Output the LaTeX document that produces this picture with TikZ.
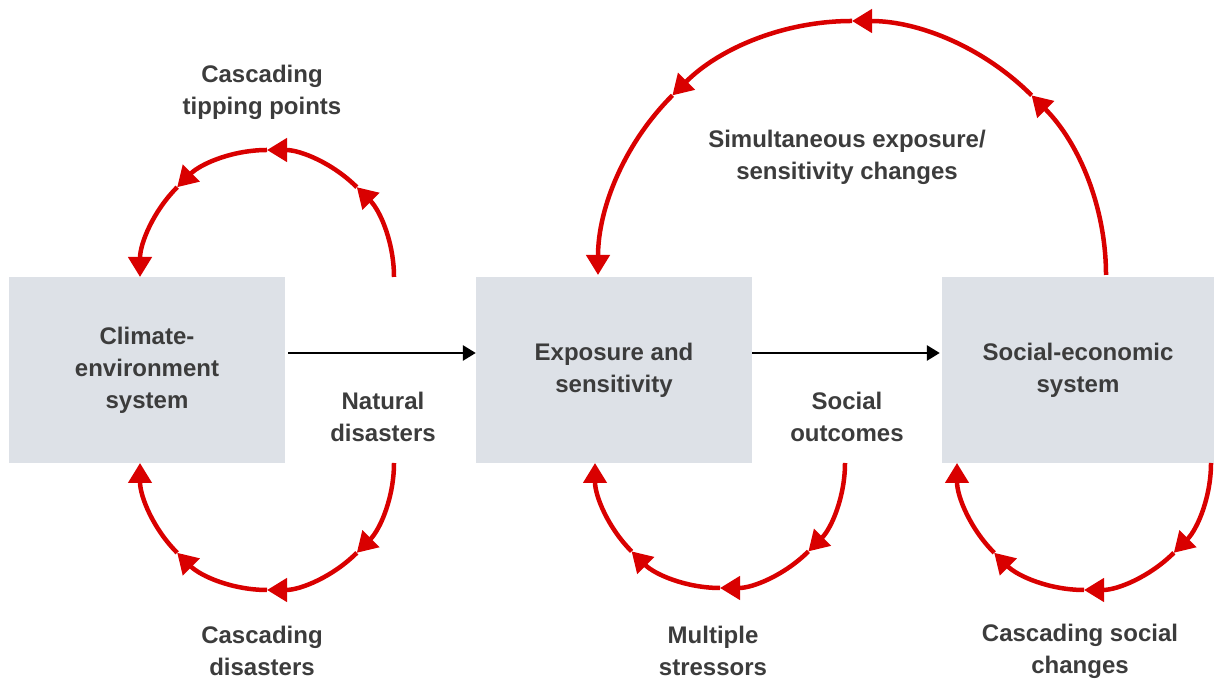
\documentclass[tikz,border=0pt]{standalone}
\usepackage{fontspec}
\setmainfont{Liberation Sans}
\usetikzlibrary{arrows.meta,calc}
\definecolor{boxgray}{RGB}{221,225,231}
\definecolor{cyclered}{RGB}{217,0,0}
\definecolor{txtgray}{RGB}{60,60,60}

\begin{document}
\begin{tikzpicture}[x=1pt,y=1pt,
    sysbox/.style={fill=boxgray, minimum width=276pt, minimum height=186pt, inner sep=0pt,
      align=center, text=txtgray, font=\bfseries\fontsize{24}{32}\selectfont},
    lbl/.style={align=center, text=txtgray, font=\bfseries\fontsize{24}{32}\selectfont},
    cyclearr/.style={draw=cyclered, line width=4.5pt, -{Triangle[length=20pt,width=23pt]}},
    flowarr/.style={draw=black, line width=2.8pt, -{Triangle[length=13pt,width=15pt]}}]

   \useasboundingbox (0,0) rectangle (1214,684);

   % the three systems
   \node[sysbox] (clim) at (147,314) {Climate-\\environment\\system};
   \node[sysbox] (expo) at (614,314) {Exposure and\\sensitivity};
   \node[sysbox, minimum width=272pt] (socio) at (1078,314) {Social-economic\\system};

   \draw[flowarr] ([xshift=3pt,yshift=17pt]clim.east) -- ([yshift=17pt]expo.west);
   \draw[flowarr] ([yshift=17pt]expo.east) -- ([xshift=-2pt,yshift=17pt]socio.west);

   % loop centres
   \coordinate (tl) at (267,407);
   \coordinate (bl) at (267,221);
   \coordinate (bm) at (720,221);
   \coordinate (br) at (1084,221);
   \coordinate (tp) at (852,409);

   \foreach \a in {0,45,90,135} {
     \draw[cyclearr] ($(tl)+(\a:127)$) arc[start angle=\a, delta angle=45, radius=127];
     \draw[cyclearr] ($(bl)+(-\a:127)$) arc[start angle=-\a, delta angle=-45, radius=127];
     \draw[cyclearr] ($(bm)+(-\a:125)$) arc[start angle=-\a, delta angle=-45, radius=125];
     \draw[cyclearr] ($(br)+(-\a:127)$) arc[start angle=-\a, delta angle=-45, radius=127];
     \draw[cyclearr] ($(tp)+(\a:254)$) arc[start angle=\a, delta angle=45, radius=254];
   }

   % labels
   \node[lbl] (tip) at (262,592) {Cascading\\tipping points};
   \node[lbl] (casdis) at (262,33) {Cascading\\disasters};
   \node[lbl] (natdis) at (383,267) {Natural\\disasters};
   \node[lbl] (socout) at (847,267) {Social\\outcomes};
   \node[lbl] (stress) at (713,33) {Multiple\\stressors};
   \node[lbl] (cassoc) at (1080,33) {Cascading social\\changes};
   \node[lbl] (simul) at (847,527) {Simultaneous exposure/\\sensitivity changes};

\end{tikzpicture}
\end{document}
